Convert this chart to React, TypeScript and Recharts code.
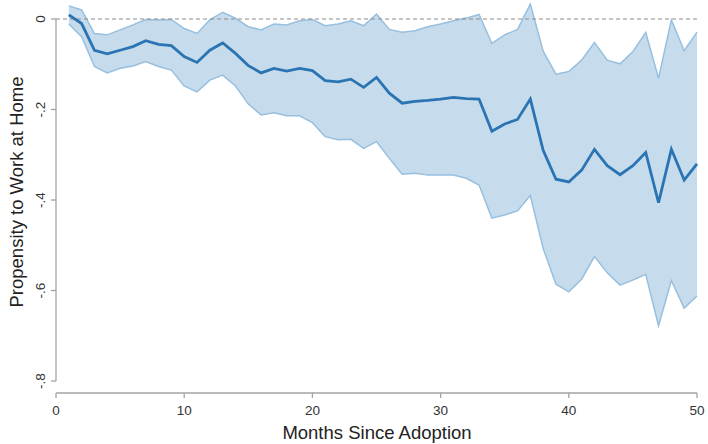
import React from "react";
import {
  ComposedChart,
  Area,
  Line,
  XAxis,
  YAxis,
  ReferenceLine,
} from "recharts";

const months = [
  1, 2, 3, 4, 5, 6, 7, 8, 9, 10, 11, 12, 13, 14, 15, 16, 17, 18, 19, 20, 21, 22, 23, 24, 25,
  26, 27, 28, 29, 30, 31, 32, 33, 34, 35, 36, 37, 38, 39, 40, 41, 42, 43, 44, 45, 46, 47, 48, 49, 50,
];

const estimate = [
  0.009, -0.01, -0.069, -0.077, -0.069, -0.061, -0.048, -0.056, -0.059, -0.083,
  -0.096, -0.069, -0.053, -0.076, -0.103, -0.119, -0.109, -0.115, -0.109, -0.114,
  -0.136, -0.139, -0.133, -0.151, -0.129, -0.164, -0.186, -0.182, -0.18, -0.177,
  -0.173, -0.176, -0.177, -0.248, -0.232, -0.222, -0.177, -0.29, -0.354, -0.36,
  -0.334, -0.288, -0.324, -0.344, -0.324, -0.295, -0.406, -0.288, -0.356, -0.32,
];

const upper = [
  0.029, 0.02, -0.032, -0.035, -0.024, -0.013, -0.001, -0.002, -0.001, -0.021,
  -0.032, -0.002, 0.015, 0.002, -0.017, -0.024, -0.011, -0.013, -0.004, -0.001,
  -0.015, -0.011, -0.004, -0.015, 0.011, -0.023, -0.029, -0.026, -0.017, -0.011,
  -0.004, 0.002, 0.01, -0.054, -0.035, -0.023, 0.033, -0.071, -0.122, -0.116,
  -0.091, -0.052, -0.091, -0.099, -0.072, -0.03, -0.131, -0.002, -0.07, -0.029,
];

const lower = [
  -0.011, -0.039, -0.105, -0.119, -0.109, -0.104, -0.094, -0.105, -0.113, -0.148,
  -0.161, -0.135, -0.124, -0.148, -0.188, -0.212, -0.207, -0.214, -0.214, -0.229,
  -0.26, -0.267, -0.266, -0.286, -0.271, -0.308, -0.343, -0.341, -0.345, -0.345,
  -0.345, -0.352, -0.367, -0.44, -0.433, -0.424, -0.39, -0.507, -0.586, -0.603,
  -0.575, -0.525, -0.561, -0.588, -0.577, -0.564, -0.678, -0.578, -0.639, -0.612,
];

const xTicks = [0, 10, 20, 30, 40, 50];
const yTicks = [-0.8, -0.6, -0.4, -0.2, 0];
const yTickLabels = ["-.8", "-.6", "-.4", "-.2", "0"];

const data = months.map((m, i) => ({
  month: m,
  est: estimate[i],
  ci: [lower[i], upper[i]],
}));

const FONT = "'Liberation Sans', Arial, Helvetica, sans-serif";
const AXIS_GRAY = "#a3a3a3";
const TEXT = "#333333";

const YTick = (props: any) => {
  const { x, y, payload } = props;
  const idx = yTicks.findIndex((t) => Math.abs(t - payload.value) < 1e-6);
  const label = idx >= 0 ? yTickLabels[idx] : String(payload.value);
  return (
    <g transform={`translate(${x - 4},${y})`}>
      <text
        transform="rotate(-90)"
        textAnchor="middle"
        x={0}
        y={0}
        fill={TEXT}
        fontSize={13.5}
        fontFamily={FONT}
      >
        {label}
      </text>
    </g>
  );
};

const YTitle = () => (
  <text
    x={23}
    y={192}
    transform="rotate(-90 23 192)"
    textAnchor="middle"
    fill="#222"
    fontSize={18.5}
    fontFamily={FONT}
  >
    Propensity to Work at Home
  </text>
);

const XTitle = () => (
  <text
    x={377}
    y={439}
    textAnchor="middle"
    fill="#222"
    fontSize={18.5}
    fontFamily={FONT}
  >
    Months Since Adoption
  </text>
);

export default function App() {
  return (
    <div style={{ position: "absolute", left: 0, top: 0, background: "#fff" }}>
      <ComposedChart
        width={708}
        height={444}
        data={data}
        margin={{ top: 1, right: 11, bottom: 0, left: 0 }}
      >
        <XAxis
          dataKey="month"
          type="number"
          domain={[0, 50]}
          ticks={xTicks}
          allowDecimals={false}
          axisLine={{ stroke: AXIS_GRAY, strokeWidth: 1.3 }}
          tickLine={{ stroke: AXIS_GRAY, strokeWidth: 1.3 }}
          tickSize={5}
          tickMargin={7}
          tick={{ fill: TEXT, fontSize: 13.5, fontFamily: FONT }}
          label={<XTitle />}
          height={51}
        />
        <YAxis
          type="number"
          domain={[-0.8265, 0.0398]}
          ticks={yTicks}
          allowDataOverflow={true}
          axisLine={false}
          tickLine={{ stroke: AXIS_GRAY, strokeWidth: 1.3 }}
          tickSize={5}
          tickMargin={2}
          tick={<YTick />}
          label={<YTitle />}
          width={56}
        />
        <ReferenceLine
          segment={[
            { x: 0, y: -0.8 },
            { x: 0, y: 0 },
          ]}
          stroke={AXIS_GRAY}
          strokeWidth={1.3}
          ifOverflow="visible"
        />
        <Area
          type="linear"
          dataKey="ci"
          stroke="#97bfdf"
          strokeWidth={1.5}
          fill="#c6dcec"
          fillOpacity={1}
          isAnimationActive={false}
          dot={false}
          activeDot={false}
        />
        <ReferenceLine
          y={0}
          stroke="#8c8c8c"
          strokeWidth={1.2}
          strokeDasharray="4 3"
        />
        <Line
          type="linear"
          dataKey="est"
          stroke="#2a74b3"
          strokeWidth={2.8}
          dot={false}
          activeDot={false}
          isAnimationActive={false}
        />
      </ComposedChart>
    </div>
  );
}
